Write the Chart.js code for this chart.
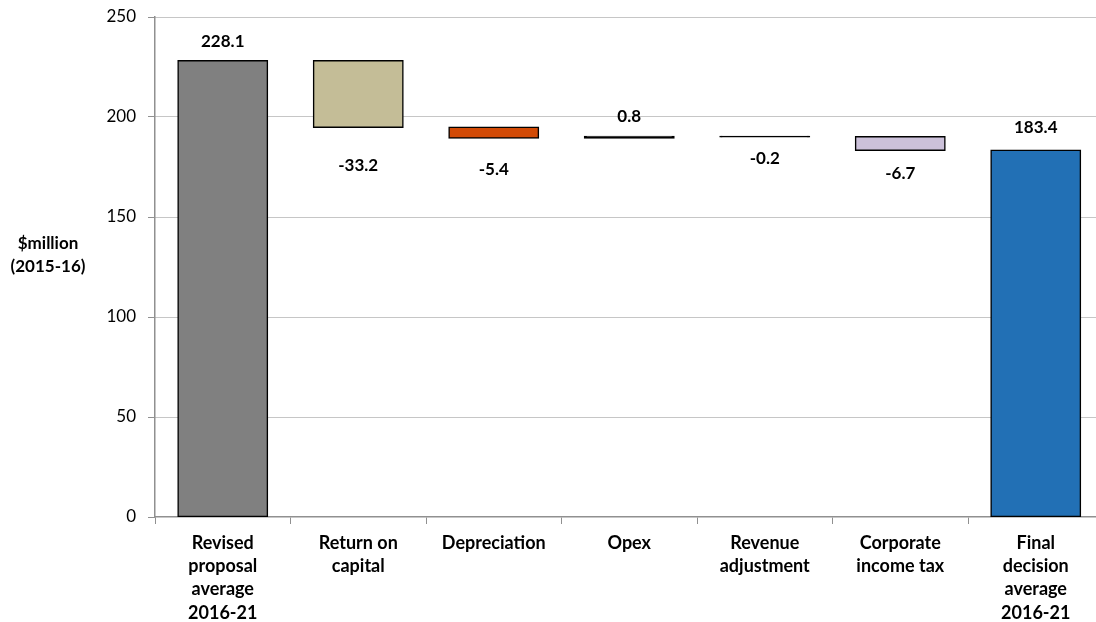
<!DOCTYPE html>
<html>
<head>
<meta charset="utf-8">
<script src="https://cdn.jsdelivr.net/npm/chart.js@4/dist/chart.umd.min.js"></script>
<style>
  html, body { margin: 0; padding: 0; background: #fff; overflow: hidden; width: 1096px; height: 622px; }
  #wrap { width: 1110px; height: 622px; }
</style>
</head>
<body>
<div id="wrap"><canvas id="c" width="1110" height="622"></canvas></div>
<script>
// Revenue walk: revised proposal -> final decision ($million, 2015-16)
const categories = [
  ["Revised", "proposal", "average", "2016-21"],
  ["Return on", "capital"],
  ["Depreciation"],
  ["Opex"],
  ["Revenue", "adjustment"],
  ["Corporate", "income tax"],
  ["Final", "decision", "average", "2016-21"]
];
const startTotal = 228.1;
const changes = [-33.2, -5.4, 0.8, -0.2, -6.7];
const endTotal = 183.4;
const yTicks = [0, 50, 100, 150, 200, 250];

// Styling
const barColors = ['#808080', '#c4bd97', '#d24a05', '#000000', '#000000', '#ccc1da', '#2270b5'];
const labelGap = [19, 38, 32, 20, 22, 23, 23];
const FONT = 'Lato, "Open Sans", sans-serif';

// Floating ranges for the waterfall
const labelValues = [startTotal, ...changes, endTotal];
const ranges = [[0, startTotal]];
let running = startTotal;
for (const c of changes) {
  const next = running + c;
  ranges.push([Math.min(running, next), Math.max(running, next)]);
  running = next;
}
ranges.push([0, endTotal]);

const valueLabels = {
  id: 'valueLabels',
  afterDatasetsDraw(chart) {
    const ctx = chart.ctx;
    const meta = chart.getDatasetMeta(0);
    ctx.save();
    ctx.font = 'bold 17px ' + FONT;
    ctx.fillStyle = '#000';
    ctx.textAlign = 'center';
    ctx.textBaseline = 'middle';
    meta.data.forEach((el, i) => {
      const v = labelValues[i];
      const top = Math.min(el.y, el.base);
      const bottom = Math.max(el.y, el.base);
      const y = v >= 0 ? top - labelGap[i] : bottom + labelGap[i];
      ctx.fillText(v.toFixed(1), el.x, y);
    });
    ctx.restore();
  }
};

const yTitle = {
  id: 'yTitle',
  afterDraw(chart) {
    const ctx = chart.ctx;
    const a = chart.chartArea;
    const mid = (a.top + a.bottom) / 2 - 12;
    ctx.save();
    ctx.font = 'bold 17px ' + FONT;
    ctx.fillStyle = '#000';
    ctx.textAlign = 'center';
    ctx.textBaseline = 'middle';
    ctx.fillText('$million', 48, mid - 11.5);
    ctx.fillText('(2015-16)', 48, mid + 11.5);
    ctx.restore();
  }
};

new Chart(document.getElementById('c'), {
  type: 'bar',
  data: {
    labels: categories,
    datasets: [{
      data: ranges,
      backgroundColor: barColors,
      borderColor: '#000',
      borderWidth: 1.5,
      borderSkipped: false,
      inflateAmount: 0.75,
      categoryPercentage: 1,
      barPercentage: 0.66
    }]
  },
  options: {
    responsive: false,
    animation: false,
    devicePixelRatio: 1,
    layout: { padding: { top: 17, right: 6.5, left: 0, bottom: 0 } },
    plugins: { legend: { display: false }, tooltip: { enabled: false } },
    scales: {
      x: {
        grid: { display: true, drawOnChartArea: false, drawTicks: true, tickLength: 7, tickColor: '#909090', tickWidth: 1, offset: true },
        border: { color: '#909090', width: 1.5 },
        ticks: { font: { family: FONT, weight: 'bold', size: 18, lineHeight: 1.3 }, color: '#000', padding: 7, maxRotation: 0, autoSkip: false },
        afterFit(s) { s.height = 105; }
      },
      y: {
        min: 0,
        max: 250,
        afterBuildTicks(s) { s.ticks = yTicks.map(v => ({ value: v })); },
        grid: {
          color: ctx => (ctx.tick && ctx.tick.value === 0) ? 'rgba(0,0,0,0)' : '#8c8c8c',
          lineWidth: 1,
          drawTicks: true,
          tickLength: 7,
          tickColor: '#909090',
          tickBorderDash: []
        },
        border: { color: '#909090', width: 1.5, dash: [1, 1] },
        ticks: { font: { family: FONT, size: 17 }, color: '#000', padding: 12 },
        afterFit(s) { s.width = 155; s.paddingTop = 0; s.paddingBottom = 0; }
      }
    }
  },
  plugins: [valueLabels, yTitle]
});
</script>
</body>
</html>
